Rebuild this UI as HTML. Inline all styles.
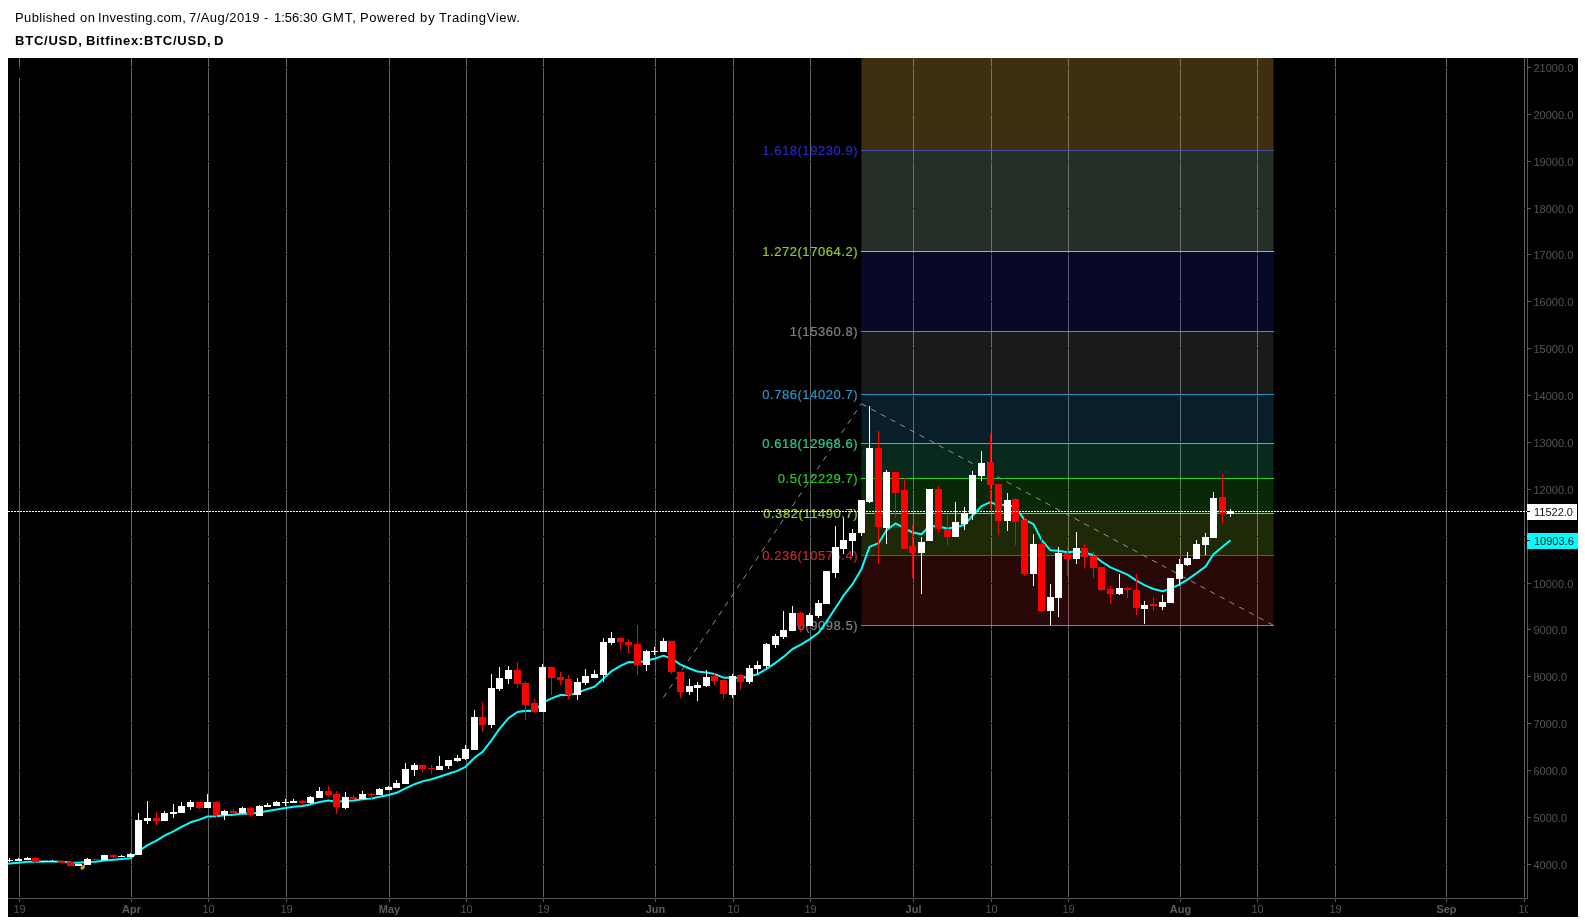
<!DOCTYPE html>
<html><head><meta charset="utf-8"><title>BTC/USD</title>
<style>
html,body{margin:0;padding:0;background:#fff;}
body{width:1585px;height:922px;position:relative;overflow:hidden;font-family:"Liberation Sans",sans-serif;}
.w{position:absolute;will-change:transform;font-size:13px;color:#000;white-space:nowrap;line-height:15px;}
.b{font-weight:bold;}
</style></head><body>
<span class="w" style="left:15.2px;top:10px;letter-spacing:0.38px">Published</span><span class="w" style="left:79.6px;top:10px;letter-spacing:0.48px">on</span><span class="w" style="left:97.8px;top:10px;letter-spacing:0.31px">Investing.com,</span><span class="w" style="left:189.2px;top:10px;letter-spacing:0.44px">7/Aug/2019</span><span class="w" style="left:264.2px;top:10px;letter-spacing:0px">-</span><span class="w" style="left:274.4px;top:10px;letter-spacing:0px">1:56:30</span><span class="w" style="left:321.8px;top:10px;letter-spacing:0.9px">GMT,</span><span class="w" style="left:360.4px;top:10px;letter-spacing:0.61px">Powered</span><span class="w" style="left:420.0px;top:10px;letter-spacing:0.9px">by</span><span class="w" style="left:439.4px;top:10px;letter-spacing:0.58px">TradingView.</span>
<span class="w b" style="left:15.4px;top:33px;letter-spacing:0.78px">BTC/USD,</span><span class="w b" style="left:85.8px;top:33px;letter-spacing:0.64px">Bitfinex:</span><span class="w b" style="left:143.6px;top:33px;letter-spacing:0.75px">BTC/USD,</span><span class="w b" style="left:214.4px;top:33px;letter-spacing:0px">D</span>
<svg width="1585" height="922" viewBox="0 0 1585 922" style="position:absolute;left:0;top:0;will-change:transform">
<rect x="8" y="58" width="1570" height="859" fill="#000"/>
<g shape-rendering="crispEdges">
<rect x="19" y="58" width="1" height="839" fill="#676767"/><rect x="19" y="899" width="1" height="3" fill="#575757"/>
<rect x="131" y="58" width="1" height="839" fill="#676767"/><rect x="131" y="899" width="1" height="3" fill="#575757"/>
<rect x="208" y="58" width="1" height="839" fill="#676767"/><rect x="208" y="899" width="1" height="3" fill="#575757"/>
<rect x="286" y="58" width="1" height="839" fill="#676767"/><rect x="286" y="899" width="1" height="3" fill="#575757"/>
<rect x="389" y="58" width="1" height="839" fill="#676767"/><rect x="389" y="899" width="1" height="3" fill="#575757"/>
<rect x="466" y="58" width="1" height="839" fill="#676767"/><rect x="466" y="899" width="1" height="3" fill="#575757"/>
<rect x="543" y="58" width="1" height="839" fill="#676767"/><rect x="543" y="899" width="1" height="3" fill="#575757"/>
<rect x="655" y="58" width="1" height="839" fill="#676767"/><rect x="655" y="899" width="1" height="3" fill="#575757"/>
<rect x="733" y="58" width="1" height="839" fill="#676767"/><rect x="733" y="899" width="1" height="3" fill="#575757"/>
<rect x="810" y="58" width="1" height="839" fill="#676767"/><rect x="810" y="899" width="1" height="3" fill="#575757"/>
<rect x="913" y="58" width="1" height="839" fill="#676767"/><rect x="913" y="899" width="1" height="3" fill="#575757"/>
<rect x="991" y="58" width="1" height="839" fill="#676767"/><rect x="991" y="899" width="1" height="3" fill="#575757"/>
<rect x="1068" y="58" width="1" height="839" fill="#676767"/><rect x="1068" y="899" width="1" height="3" fill="#575757"/>
<rect x="1180" y="58" width="1" height="839" fill="#676767"/><rect x="1180" y="899" width="1" height="3" fill="#575757"/>
<rect x="1257" y="58" width="1" height="839" fill="#676767"/><rect x="1257" y="899" width="1" height="3" fill="#575757"/>
<rect x="1335" y="58" width="1" height="839" fill="#676767"/><rect x="1335" y="899" width="1" height="3" fill="#575757"/>
<rect x="1446" y="58" width="1" height="839" fill="#676767"/><rect x="1446" y="899" width="1" height="3" fill="#575757"/>
<rect x="1524" y="58" width="1" height="839" fill="#676767"/><rect x="1524" y="899" width="1" height="3" fill="#575757"/>
<rect x="8" y="864" width="1519" height="1" fill="#000"/>
<rect x="8" y="817" width="1519" height="1" fill="#000"/>
<rect x="8" y="770" width="1519" height="1" fill="#000"/>
<rect x="8" y="723" width="1519" height="1" fill="#000"/>
<rect x="8" y="676" width="1519" height="1" fill="#000"/>
<rect x="8" y="629" width="1519" height="1" fill="#000"/>
<rect x="8" y="583" width="1519" height="1" fill="#000"/>
<rect x="8" y="536" width="1519" height="1" fill="#000"/>
<rect x="8" y="489" width="1519" height="1" fill="#000"/>
<rect x="8" y="442" width="1519" height="1" fill="#000"/>
<rect x="8" y="395" width="1519" height="1" fill="#000"/>
<rect x="8" y="348" width="1519" height="1" fill="#000"/>
<rect x="8" y="301" width="1519" height="1" fill="#000"/>
<rect x="8" y="254" width="1519" height="1" fill="#000"/>
<rect x="8" y="208" width="1519" height="1" fill="#000"/>
<rect x="8" y="161" width="1519" height="1" fill="#000"/>
<rect x="8" y="114" width="1519" height="1" fill="#000"/>
<rect x="8" y="67" width="1519" height="1" fill="#000"/>
<rect x="19" y="69" width="1" height="9" fill="#000"/>
</g>
<g>
<rect x="861.5" y="555.50" width="412.0" height="70.00" fill="#cc2828" fill-opacity="0.2"/>
<rect x="861.5" y="513.50" width="412.0" height="42.00" fill="#95cc28" fill-opacity="0.2"/>
<rect x="861.5" y="478.50" width="412.0" height="35.00" fill="#28cc28" fill-opacity="0.2"/>
<rect x="861.5" y="443.50" width="412.0" height="35.00" fill="#28cc95" fill-opacity="0.2"/>
<rect x="861.5" y="394.50" width="412.0" height="49.00" fill="#2895cc" fill-opacity="0.2"/>
<rect x="861.5" y="331.50" width="412.0" height="63.00" fill="#808080" fill-opacity="0.2"/>
<rect x="861.5" y="150.50" width="412.0" height="181.00" fill="#2828cc" fill-opacity="0.2"/>
<rect x="861.5" y="58" width="412.0" height="92.50" fill="#cc2828" fill-opacity="0.2"/>
<rect x="861.5" y="58" width="412.0" height="193.50" fill="#95cc28" fill-opacity="0.2"/>
</g><g shape-rendering="crispEdges">
<rect x="861" y="625" width="413" height="1" fill="#808080"/>
<rect x="861" y="555" width="413" height="1" fill="#cc2828"/>
<rect x="861" y="513" width="413" height="1" fill="#95cc28"/>
<rect x="861" y="478" width="413" height="1" fill="#28cc28"/>
<rect x="861" y="443" width="413" height="1" fill="#28cc95"/>
<rect x="861" y="394" width="413" height="1" fill="#2895cc"/>
<rect x="861" y="331" width="413" height="1" fill="#808080"/>
<rect x="861" y="251" width="413" height="1" fill="#95cc28"/>
<rect x="861" y="150" width="413" height="1" fill="#4848aa"/>
</g>
<g font-family="Liberation Sans, sans-serif" font-size="13" letter-spacing="0.55" text-anchor="end" stroke-width="0.2">
<text x="858.1" y="630.0" fill="#808080" stroke="#808080">0(9098.5)</text>
<text x="858.1" y="560.0" fill="#cc2828" stroke="#cc2828">0.236(10576.4)</text>
<text x="858.1" y="518.0" fill="#95cc28" stroke="#95cc28">0.382(11490.7)</text>
<text x="858.1" y="483.0" fill="#28cc28" stroke="#28cc28">0.5(12229.7)</text>
<text x="858.1" y="448.0" fill="#28cc95" stroke="#28cc95">0.618(12968.6)</text>
<text x="858.1" y="399.0" fill="#2895cc" stroke="#2895cc">0.786(14020.7)</text>
<text x="858.1" y="336.0" fill="#808080" stroke="#808080">1(15360.8)</text>
<text x="858.1" y="256.0" fill="#95cc28" stroke="#95cc28">1.272(17064.2)</text>
<text x="858.1" y="155.0" fill="#2828cc" stroke="#2828cc">1.618(19230.9)</text>
</g>
<g fill="none" stroke="#909090" stroke-width="1" stroke-dasharray="5.5 5.5">
<path d="M663.4 697.6 L861.4 403.7"/><path d="M861.4 403.7 L1273.3 625.3"/>
</g>
<clipPath id="cp"><rect x="8" y="58" width="1519" height="840"/></clipPath>
<path d="M8 863.7 L9.5 863.5 9.5 863.5 L18.5 862.7 L27.5 861.8 L35.5 861.8 L44.5 861.6 L52.5 861.5 L61.5 861.7 L70.5 862.4 L78.5 862.7 L87.5 862.1 L95.5 861.7 L104.5 860.5 L113.5 859.8 L121.5 859.1 L130.5 858.2 L138.5 851.3 L147.5 845.2 L156.5 840.7 L164.5 835.7 L173.5 831.4 L181.5 826.8 L190.5 822.3 L199.5 819.6 L207.5 816.5 L216.5 816.2 L224.5 815.3 L233.5 814.8 L242.5 813.5 L250.5 813.8 L259.5 812.4 L267.5 811.0 L276.5 809.4 L285.5 808.0 L293.5 806.7 L302.5 806.0 L310.5 804.4 L319.5 802.0 L328.5 800.6 L336.5 801.7 L345.5 800.9 L353.5 800.5 L362.5 799.3 L371.5 798.5 L379.5 796.8 L388.5 795.0 L396.5 792.8 L405.5 788.4 L414.5 784.2 L422.5 781.4 L431.5 779.2 L439.5 776.8 L448.5 773.8 L457.5 770.9 L465.5 766.9 L474.5 757.8 L482.5 751.9 L491.5 740.3 L499.5 728.9 L508.5 718.2 L517.5 712.0 L525.5 710.7 L534.5 710.9 L542.5 702.9 L551.5 698.4 L560.5 695.0 L568.5 695.0 L577.5 692.7 L585.5 689.6 L594.5 686.8 L603.5 678.6 L611.5 671.2 L620.5 665.9 L628.5 662.1 L637.5 662.6 L646.5 660.5 L654.5 658.8 L663.5 655.6 L671.5 658.6 L680.5 664.6 L689.5 668.5 L697.5 671.5 L706.5 672.5 L714.5 674.0 L723.5 677.7 L732.5 677.4 L740.5 678.2 L749.5 676.3 L757.5 674.3 L766.5 668.8 L775.5 662.8 L783.5 656.9 L792.5 649.0 L800.5 644.8 L809.5 639.4 L818.5 632.8 L826.5 621.6 L835.5 608.0 L843.5 595.7 L852.5 584.2 L861.5 568.9 L869.5 546.9 L878.5 543.2 L886.5 530.3 L895.5 523.5 L904.5 528.1 L912.5 532.5 L921.5 534.3 L929.5 526.0 L938.5 526.6 L947.5 528.4 L955.5 527.3 L964.5 524.8 L972.5 515.7 L981.5 506.1 L990.5 502.2 L998.5 505.6 L1007.5 504.6 L1015.5 507.7 L1024.5 519.7 L1033.5 524.1 L1041.5 539.9 L1050.5 550.3 L1058.5 550.8 L1067.5 552.2 L1076.5 551.5 L1084.5 552.4 L1093.5 555.2 L1101.5 561.5 L1110.5 567.4 L1119.5 571.2 L1127.5 574.7 L1136.5 580.7 L1144.5 585.1 L1153.5 589.0 L1162.5 591.3 L1170.5 588.9 L1179.5 584.4 L1187.5 579.6 L1196.5 573.2 L1205.5 566.6 L1213.5 554.2 L1222.5 546.8 L1230.5 540.3" fill="none" stroke="#00ffff" stroke-width="2" stroke-linejoin="round" clip-path="url(#cp)"/>
<g shape-rendering="crispEdges" clip-path="url(#cp)">
<rect x="9" y="858" width="1" height="4" fill="#fff"/><rect x="6" y="860" width="7" height="1" fill="#fff"/>
<rect x="18" y="858" width="1" height="3" fill="#fff"/><rect x="15" y="859" width="7" height="2" fill="#fff"/>
<rect x="27" y="857" width="1" height="3" fill="#fff"/><rect x="24" y="858" width="7" height="2" fill="#fff"/>
<rect x="35" y="857" width="1" height="6" fill="#ff0000"/><rect x="32" y="858" width="7" height="4" fill="#ff0000"/>
<rect x="44" y="861" width="1" height="1" fill="#fff"/><rect x="41" y="861" width="7" height="1" fill="#fff"/>
<rect x="52" y="860" width="1" height="2" fill="#fff"/><rect x="49" y="861" width="7" height="1" fill="#fff"/>
<rect x="61" y="861" width="1" height="2" fill="#ff0000"/><rect x="58" y="861" width="7" height="2" fill="#ff0000"/>
<rect x="70" y="861" width="1" height="5" fill="#ff0000"/><rect x="67" y="862" width="7" height="4" fill="#ff0000"/>
<rect x="78" y="864" width="1" height="2" fill="#fff"/><rect x="75" y="864" width="7" height="2" fill="#fff"/>
<rect x="87" y="858" width="1" height="7" fill="#fff"/><rect x="84" y="859" width="7" height="6" fill="#fff"/>
<rect x="95" y="859" width="1" height="1" fill="#ff0000"/><rect x="92" y="859" width="7" height="1" fill="#ff0000"/>
<rect x="104" y="855" width="1" height="5" fill="#fff"/><rect x="101" y="855" width="7" height="5" fill="#fff"/>
<rect x="113" y="854" width="1" height="4" fill="#ff0000"/><rect x="110" y="855" width="7" height="2" fill="#ff0000"/>
<rect x="121" y="855" width="1" height="2" fill="#fff"/><rect x="118" y="856" width="7" height="1" fill="#fff"/>
<rect x="130" y="853" width="1" height="4" fill="#fff"/><rect x="127" y="854" width="7" height="3" fill="#fff"/>
<rect x="138" y="813" width="1" height="42" fill="#fff"/><rect x="135" y="820" width="7" height="35" fill="#fff"/>
<rect x="147" y="801" width="1" height="23" fill="#fff"/><rect x="144" y="818" width="7" height="3" fill="#fff"/>
<rect x="156" y="812" width="1" height="13" fill="#ff0000"/><rect x="153" y="818" width="7" height="3" fill="#ff0000"/>
<rect x="164" y="811" width="1" height="10" fill="#fff"/><rect x="161" y="813" width="7" height="8" fill="#fff"/>
<rect x="173" y="804" width="1" height="14" fill="#fff"/><rect x="170" y="812" width="7" height="2" fill="#fff"/>
<rect x="181" y="802" width="1" height="11" fill="#fff"/><rect x="178" y="806" width="7" height="7" fill="#fff"/>
<rect x="190" y="800" width="1" height="10" fill="#fff"/><rect x="187" y="802" width="7" height="5" fill="#fff"/>
<rect x="199" y="802" width="1" height="7" fill="#ff0000"/><rect x="196" y="802" width="7" height="6" fill="#ff0000"/>
<rect x="207" y="794" width="1" height="14" fill="#fff"/><rect x="204" y="802" width="7" height="6" fill="#fff"/>
<rect x="216" y="801" width="1" height="16" fill="#ff0000"/><rect x="213" y="802" width="7" height="13" fill="#ff0000"/>
<rect x="224" y="810" width="1" height="10" fill="#fff"/><rect x="221" y="811" width="7" height="4" fill="#fff"/>
<rect x="233" y="809" width="1" height="4" fill="#ff0000"/><rect x="230" y="811" width="7" height="2" fill="#ff0000"/>
<rect x="242" y="807" width="1" height="7" fill="#fff"/><rect x="239" y="808" width="7" height="5" fill="#fff"/>
<rect x="250" y="807" width="1" height="10" fill="#ff0000"/><rect x="247" y="808" width="7" height="7" fill="#ff0000"/>
<rect x="259" y="805" width="1" height="11" fill="#fff"/><rect x="256" y="806" width="7" height="10" fill="#fff"/>
<rect x="267" y="803" width="1" height="4" fill="#fff"/><rect x="264" y="805" width="7" height="2" fill="#fff"/>
<rect x="276" y="801" width="1" height="5" fill="#fff"/><rect x="273" y="802" width="7" height="4" fill="#fff"/>
<rect x="285" y="799" width="1" height="7" fill="#fff"/><rect x="282" y="802" width="7" height="1" fill="#fff"/>
<rect x="293" y="799" width="1" height="4" fill="#fff"/><rect x="290" y="801" width="7" height="2" fill="#fff"/>
<rect x="302" y="800" width="1" height="5" fill="#ff0000"/><rect x="299" y="801" width="7" height="2" fill="#ff0000"/>
<rect x="310" y="796" width="1" height="8" fill="#fff"/><rect x="307" y="797" width="7" height="6" fill="#fff"/>
<rect x="319" y="787" width="1" height="11" fill="#fff"/><rect x="316" y="791" width="7" height="7" fill="#fff"/>
<rect x="328" y="786" width="1" height="11" fill="#ff0000"/><rect x="325" y="791" width="7" height="4" fill="#ff0000"/>
<rect x="336" y="791" width="1" height="23" fill="#ff0000"/><rect x="333" y="794" width="7" height="13" fill="#ff0000"/>
<rect x="345" y="792" width="1" height="17" fill="#fff"/><rect x="342" y="797" width="7" height="11" fill="#fff"/>
<rect x="353" y="795" width="1" height="5" fill="#ff0000"/><rect x="350" y="797" width="7" height="2" fill="#ff0000"/>
<rect x="362" y="791" width="1" height="8" fill="#fff"/><rect x="359" y="794" width="7" height="5" fill="#fff"/>
<rect x="371" y="793" width="1" height="6" fill="#ff0000"/><rect x="368" y="794" width="7" height="1" fill="#ff0000"/>
<rect x="379" y="788" width="1" height="7" fill="#fff"/><rect x="376" y="789" width="7" height="6" fill="#fff"/>
<rect x="388" y="786" width="1" height="4" fill="#fff"/><rect x="385" y="787" width="7" height="3" fill="#fff"/>
<rect x="396" y="780" width="1" height="8" fill="#fff"/><rect x="393" y="783" width="7" height="5" fill="#fff"/>
<rect x="405" y="763" width="1" height="21" fill="#fff"/><rect x="402" y="769" width="7" height="15" fill="#fff"/>
<rect x="414" y="763" width="1" height="13" fill="#fff"/><rect x="411" y="765" width="7" height="5" fill="#fff"/>
<rect x="422" y="765" width="1" height="7" fill="#ff0000"/><rect x="419" y="765" width="7" height="4" fill="#ff0000"/>
<rect x="431" y="765" width="1" height="9" fill="#ff0000"/><rect x="428" y="768" width="7" height="1" fill="#ff0000"/>
<rect x="439" y="756" width="1" height="14" fill="#fff"/><rect x="436" y="766" width="7" height="4" fill="#fff"/>
<rect x="448" y="760" width="1" height="9" fill="#fff"/><rect x="445" y="760" width="7" height="6" fill="#fff"/>
<rect x="457" y="755" width="1" height="7" fill="#fff"/><rect x="454" y="758" width="7" height="3" fill="#fff"/>
<rect x="465" y="745" width="1" height="15" fill="#fff"/><rect x="462" y="749" width="7" height="10" fill="#fff"/>
<rect x="474" y="710" width="1" height="40" fill="#fff"/><rect x="471" y="717" width="7" height="33" fill="#fff"/>
<rect x="482" y="702" width="1" height="30" fill="#ff0000"/><rect x="479" y="717" width="7" height="8" fill="#ff0000"/>
<rect x="491" y="674" width="1" height="54" fill="#fff"/><rect x="488" y="688" width="7" height="37" fill="#fff"/>
<rect x="499" y="667" width="1" height="24" fill="#fff"/><rect x="496" y="678" width="7" height="11" fill="#fff"/>
<rect x="508" y="666" width="1" height="18" fill="#fff"/><rect x="505" y="670" width="7" height="9" fill="#fff"/>
<rect x="517" y="662" width="1" height="26" fill="#ff0000"/><rect x="514" y="670" width="7" height="14" fill="#ff0000"/>
<rect x="525" y="681" width="1" height="39" fill="#ff0000"/><rect x="522" y="683" width="7" height="22" fill="#ff0000"/>
<rect x="534" y="699" width="1" height="14" fill="#ff0000"/><rect x="531" y="703" width="7" height="9" fill="#ff0000"/>
<rect x="542" y="664" width="1" height="48" fill="#fff"/><rect x="539" y="667" width="7" height="45" fill="#fff"/>
<rect x="551" y="667" width="1" height="28" fill="#ff0000"/><rect x="548" y="667" width="7" height="11" fill="#ff0000"/>
<rect x="560" y="672" width="1" height="13" fill="#ff0000"/><rect x="557" y="677" width="7" height="3" fill="#ff0000"/>
<rect x="568" y="675" width="1" height="24" fill="#ff0000"/><rect x="565" y="679" width="7" height="16" fill="#ff0000"/>
<rect x="577" y="678" width="1" height="22" fill="#fff"/><rect x="574" y="682" width="7" height="13" fill="#fff"/>
<rect x="585" y="669" width="1" height="16" fill="#fff"/><rect x="582" y="676" width="7" height="7" fill="#fff"/>
<rect x="594" y="670" width="1" height="8" fill="#fff"/><rect x="591" y="674" width="7" height="4" fill="#fff"/>
<rect x="603" y="638" width="1" height="44" fill="#fff"/><rect x="600" y="642" width="7" height="33" fill="#fff"/>
<rect x="611" y="632" width="1" height="13" fill="#fff"/><rect x="608" y="638" width="7" height="5" fill="#fff"/>
<rect x="620" y="637" width="1" height="13" fill="#ff0000"/><rect x="617" y="638" width="7" height="4" fill="#ff0000"/>
<rect x="628" y="639" width="1" height="14" fill="#ff0000"/><rect x="625" y="642" width="7" height="3" fill="#ff0000"/>
<rect x="637" y="625" width="1" height="50" fill="#ff0000"/><rect x="634" y="644" width="7" height="21" fill="#ff0000"/>
<rect x="646" y="650" width="1" height="21" fill="#fff"/><rect x="643" y="651" width="7" height="14" fill="#fff"/>
<rect x="654" y="647" width="1" height="8" fill="#fff"/><rect x="651" y="651" width="7" height="1" fill="#fff"/>
<rect x="663" y="638" width="1" height="14" fill="#fff"/><rect x="660" y="641" width="7" height="11" fill="#fff"/>
<rect x="671" y="641" width="1" height="33" fill="#ff0000"/><rect x="668" y="641" width="7" height="31" fill="#ff0000"/>
<rect x="680" y="672" width="1" height="26" fill="#ff0000"/><rect x="677" y="672" width="7" height="20" fill="#ff0000"/>
<rect x="689" y="679" width="1" height="16" fill="#fff"/><rect x="686" y="686" width="7" height="6" fill="#fff"/>
<rect x="697" y="682" width="1" height="19" fill="#fff"/><rect x="694" y="685" width="7" height="3" fill="#fff"/>
<rect x="706" y="670" width="1" height="17" fill="#fff"/><rect x="703" y="677" width="7" height="9" fill="#fff"/>
<rect x="714" y="673" width="1" height="12" fill="#ff0000"/><rect x="711" y="676" width="7" height="5" fill="#ff0000"/>
<rect x="723" y="678" width="1" height="21" fill="#ff0000"/><rect x="720" y="680" width="7" height="14" fill="#ff0000"/>
<rect x="732" y="674" width="1" height="24" fill="#fff"/><rect x="729" y="676" width="7" height="19" fill="#fff"/>
<rect x="740" y="674" width="1" height="16" fill="#ff0000"/><rect x="737" y="675" width="7" height="7" fill="#ff0000"/>
<rect x="749" y="665" width="1" height="19" fill="#fff"/><rect x="746" y="668" width="7" height="14" fill="#fff"/>
<rect x="757" y="661" width="1" height="13" fill="#fff"/><rect x="754" y="665" width="7" height="4" fill="#fff"/>
<rect x="766" y="643" width="1" height="25" fill="#fff"/><rect x="763" y="644" width="7" height="22" fill="#fff"/>
<rect x="775" y="634" width="1" height="14" fill="#fff"/><rect x="772" y="636" width="7" height="9" fill="#fff"/>
<rect x="783" y="611" width="1" height="28" fill="#fff"/><rect x="780" y="630" width="7" height="7" fill="#fff"/>
<rect x="792" y="606" width="1" height="25" fill="#fff"/><rect x="789" y="613" width="7" height="18" fill="#fff"/>
<rect x="800" y="612" width="1" height="20" fill="#ff0000"/><rect x="797" y="613" width="7" height="13" fill="#ff0000"/>
<rect x="809" y="613" width="1" height="13" fill="#fff"/><rect x="806" y="615" width="7" height="11" fill="#fff"/>
<rect x="818" y="600" width="1" height="18" fill="#fff"/><rect x="815" y="603" width="7" height="13" fill="#fff"/>
<rect x="826" y="571" width="1" height="33" fill="#fff"/><rect x="823" y="571" width="7" height="33" fill="#fff"/>
<rect x="835" y="526" width="1" height="52" fill="#fff"/><rect x="832" y="547" width="7" height="26" fill="#fff"/>
<rect x="843" y="518" width="1" height="36" fill="#fff"/><rect x="840" y="540" width="7" height="9" fill="#fff"/>
<rect x="852" y="529" width="1" height="27" fill="#fff"/><rect x="849" y="533" width="7" height="8" fill="#fff"/>
<rect x="861" y="500" width="1" height="36" fill="#fff"/><rect x="858" y="500" width="7" height="33" fill="#fff"/>
<rect x="869" y="406" width="1" height="97" fill="#fff"/><rect x="866" y="448" width="7" height="54" fill="#fff"/>
<rect x="878" y="431" width="1" height="133" fill="#ff0000"/><rect x="875" y="448" width="7" height="79" fill="#ff0000"/>
<rect x="886" y="470" width="1" height="74" fill="#fff"/><rect x="883" y="472" width="7" height="56" fill="#fff"/>
<rect x="895" y="472" width="1" height="46" fill="#ff0000"/><rect x="892" y="472" width="7" height="21" fill="#ff0000"/>
<rect x="904" y="478" width="1" height="71" fill="#ff0000"/><rect x="901" y="490" width="7" height="59" fill="#ff0000"/>
<rect x="912" y="525" width="1" height="53" fill="#ff0000"/><rect x="909" y="546" width="7" height="7" fill="#ff0000"/>
<rect x="921" y="537" width="1" height="57" fill="#fff"/><rect x="918" y="542" width="7" height="11" fill="#fff"/>
<rect x="929" y="489" width="1" height="52" fill="#fff"/><rect x="926" y="489" width="7" height="52" fill="#fff"/>
<rect x="938" y="486" width="1" height="47" fill="#ff0000"/><rect x="935" y="489" width="7" height="40" fill="#ff0000"/>
<rect x="947" y="515" width="1" height="30" fill="#ff0000"/><rect x="944" y="529" width="7" height="8" fill="#ff0000"/>
<rect x="955" y="502" width="1" height="35" fill="#fff"/><rect x="952" y="522" width="7" height="15" fill="#fff"/>
<rect x="964" y="507" width="1" height="23" fill="#fff"/><rect x="961" y="513" width="7" height="11" fill="#fff"/>
<rect x="972" y="471" width="1" height="49" fill="#fff"/><rect x="969" y="475" width="7" height="39" fill="#fff"/>
<rect x="981" y="451" width="1" height="30" fill="#fff"/><rect x="978" y="463" width="7" height="13" fill="#fff"/>
<rect x="990" y="434" width="1" height="75" fill="#ff0000"/><rect x="987" y="462" width="7" height="23" fill="#ff0000"/>
<rect x="998" y="484" width="1" height="51" fill="#ff0000"/><rect x="995" y="484" width="7" height="37" fill="#ff0000"/>
<rect x="1007" y="493" width="1" height="38" fill="#fff"/><rect x="1004" y="500" width="7" height="21" fill="#fff"/>
<rect x="1015" y="498" width="1" height="47" fill="#ff0000"/><rect x="1012" y="499" width="7" height="23" fill="#ff0000"/>
<rect x="1024" y="518" width="1" height="58" fill="#ff0000"/><rect x="1021" y="520" width="7" height="54" fill="#ff0000"/>
<rect x="1033" y="534" width="1" height="52" fill="#fff"/><rect x="1030" y="544" width="7" height="30" fill="#fff"/>
<rect x="1041" y="537" width="1" height="75" fill="#ff0000"/><rect x="1038" y="544" width="7" height="67" fill="#ff0000"/>
<rect x="1050" y="584" width="1" height="41" fill="#fff"/><rect x="1047" y="597" width="7" height="14" fill="#fff"/>
<rect x="1058" y="547" width="1" height="70" fill="#fff"/><rect x="1055" y="553" width="7" height="45" fill="#fff"/>
<rect x="1067" y="547" width="1" height="29" fill="#ff0000"/><rect x="1064" y="553" width="7" height="6" fill="#ff0000"/>
<rect x="1076" y="532" width="1" height="32" fill="#fff"/><rect x="1073" y="548" width="7" height="11" fill="#fff"/>
<rect x="1084" y="544" width="1" height="24" fill="#ff0000"/><rect x="1081" y="548" width="7" height="9" fill="#ff0000"/>
<rect x="1093" y="551" width="1" height="27" fill="#ff0000"/><rect x="1090" y="556" width="7" height="12" fill="#ff0000"/>
<rect x="1101" y="567" width="1" height="24" fill="#ff0000"/><rect x="1098" y="567" width="7" height="23" fill="#ff0000"/>
<rect x="1110" y="586" width="1" height="18" fill="#ff0000"/><rect x="1107" y="589" width="7" height="5" fill="#ff0000"/>
<rect x="1119" y="574" width="1" height="21" fill="#fff"/><rect x="1116" y="588" width="7" height="6" fill="#fff"/>
<rect x="1127" y="587" width="1" height="11" fill="#ff0000"/><rect x="1124" y="588" width="7" height="2" fill="#ff0000"/>
<rect x="1136" y="574" width="1" height="41" fill="#ff0000"/><rect x="1133" y="590" width="7" height="18" fill="#ff0000"/>
<rect x="1144" y="601" width="1" height="23" fill="#fff"/><rect x="1141" y="605" width="7" height="4" fill="#fff"/>
<rect x="1153" y="597" width="1" height="14" fill="#ff0000"/><rect x="1150" y="604" width="7" height="2" fill="#ff0000"/>
<rect x="1162" y="595" width="1" height="15" fill="#fff"/><rect x="1159" y="602" width="7" height="5" fill="#fff"/>
<rect x="1170" y="578" width="1" height="25" fill="#fff"/><rect x="1167" y="578" width="7" height="25" fill="#fff"/>
<rect x="1179" y="559" width="1" height="27" fill="#fff"/><rect x="1176" y="564" width="7" height="15" fill="#fff"/>
<rect x="1187" y="552" width="1" height="14" fill="#fff"/><rect x="1184" y="558" width="7" height="7" fill="#fff"/>
<rect x="1196" y="540" width="1" height="19" fill="#fff"/><rect x="1193" y="544" width="7" height="15" fill="#fff"/>
<rect x="1205" y="533" width="1" height="22" fill="#fff"/><rect x="1202" y="537" width="7" height="8" fill="#fff"/>
<rect x="1213" y="492" width="1" height="46" fill="#fff"/><rect x="1210" y="498" width="7" height="40" fill="#fff"/>
<rect x="1222" y="474" width="1" height="49" fill="#ff0000"/><rect x="1219" y="497" width="7" height="17" fill="#ff0000"/>
<rect x="1230" y="509" width="1" height="8" fill="#fff"/><rect x="1227" y="511" width="7" height="3" fill="#fff"/>
</g>
<g shape-rendering="crispEdges"><line x1="8" y1="511.5" x2="1527" y2="511.5" stroke="#fff" stroke-width="1" stroke-dasharray="2 1"/></g>
<ellipse cx="82.8" cy="867.4" rx="2.7" ry="1.7" fill="#f0a000" transform="rotate(-40 82.8 867.4)"/>
<g shape-rendering="crispEdges">
<rect x="8" y="898" width="1520" height="1" fill="#575757"/>
<rect x="1527" y="58" width="1" height="840" fill="#575757"/>
<rect x="1528" y="864" width="3" height="1" fill="#575757"/>
<rect x="1528" y="817" width="3" height="1" fill="#575757"/>
<rect x="1528" y="770" width="3" height="1" fill="#575757"/>
<rect x="1528" y="723" width="3" height="1" fill="#575757"/>
<rect x="1528" y="676" width="3" height="1" fill="#575757"/>
<rect x="1528" y="629" width="3" height="1" fill="#575757"/>
<rect x="1528" y="583" width="3" height="1" fill="#575757"/>
<rect x="1528" y="536" width="3" height="1" fill="#575757"/>
<rect x="1528" y="489" width="3" height="1" fill="#575757"/>
<rect x="1528" y="442" width="3" height="1" fill="#575757"/>
<rect x="1528" y="395" width="3" height="1" fill="#575757"/>
<rect x="1528" y="348" width="3" height="1" fill="#575757"/>
<rect x="1528" y="301" width="3" height="1" fill="#575757"/>
<rect x="1528" y="254" width="3" height="1" fill="#575757"/>
<rect x="1528" y="208" width="3" height="1" fill="#575757"/>
<rect x="1528" y="161" width="3" height="1" fill="#575757"/>
<rect x="1528" y="114" width="3" height="1" fill="#575757"/>
<rect x="1528" y="67" width="3" height="1" fill="#575757"/>
</g>
<g font-family="Liberation Sans, sans-serif" font-size="11" fill="#555555" opacity="0.999">
<text x="1533.5" y="869">4000.0</text>
<text x="1533.5" y="822">5000.0</text>
<text x="1533.5" y="775">6000.0</text>
<text x="1533.5" y="728">7000.0</text>
<text x="1533.5" y="681">8000.0</text>
<text x="1533.5" y="634">9000.0</text>
<text x="1533.5" y="588">10000.0</text>
<text x="1533.5" y="541">11000.0</text>
<text x="1533.5" y="494">12000.0</text>
<text x="1533.5" y="447">13000.0</text>
<text x="1533.5" y="400">14000.0</text>
<text x="1533.5" y="353">15000.0</text>
<text x="1533.5" y="306">16000.0</text>
<text x="1533.5" y="259">17000.0</text>
<text x="1533.5" y="213">18000.0</text>
<text x="1533.5" y="166">19000.0</text>
<text x="1533.5" y="119">20000.0</text>
<text x="1533.5" y="72">21000.0</text>
</g>
<clipPath id="cx"><rect x="8" y="898" width="1520" height="19"/></clipPath>
<g font-family="Liberation Sans, sans-serif" font-size="11" fill="#555555" text-anchor="middle" clip-path="url(#cx)">
<text x="19.5" y="913">19</text>
<text x="131.5" y="913" font-weight="bold" fill="#5c5c5c">Apr</text>
<text x="208.5" y="913">10</text>
<text x="286.5" y="913">19</text>
<text x="389.5" y="913" font-weight="bold" fill="#5c5c5c">May</text>
<text x="466.5" y="913">10</text>
<text x="543.5" y="913">19</text>
<text x="655.5" y="913" font-weight="bold" fill="#5c5c5c">Jun</text>
<text x="733.5" y="913">10</text>
<text x="810.5" y="913">19</text>
<text x="913.5" y="913" font-weight="bold" fill="#5c5c5c">Jul</text>
<text x="991.5" y="913">10</text>
<text x="1068.5" y="913">19</text>
<text x="1180.5" y="913" font-weight="bold" fill="#5c5c5c">Aug</text>
<text x="1257.5" y="913">10</text>
<text x="1335.5" y="913">19</text>
<text x="1446.5" y="913" font-weight="bold" fill="#5c5c5c">Sep</text>
<text x="1524.5" y="913">10</text>
</g>
<g shape-rendering="crispEdges">
<rect x="1527" y="504" width="50" height="16" fill="#fff"/>
<rect x="1527" y="533" width="51" height="16" fill="#00ffff"/>
<rect x="1527" y="511" width="3" height="1" fill="#000"/>
<rect x="1527" y="540" width="3" height="1" fill="#000"/>
</g>
<g font-family="Liberation Sans, sans-serif" font-size="11" fill="#111">
<text x="1534" y="516">11522.0</text>
<text x="1534" y="545">10903.6</text>
</g>
</svg>
</body></html>
